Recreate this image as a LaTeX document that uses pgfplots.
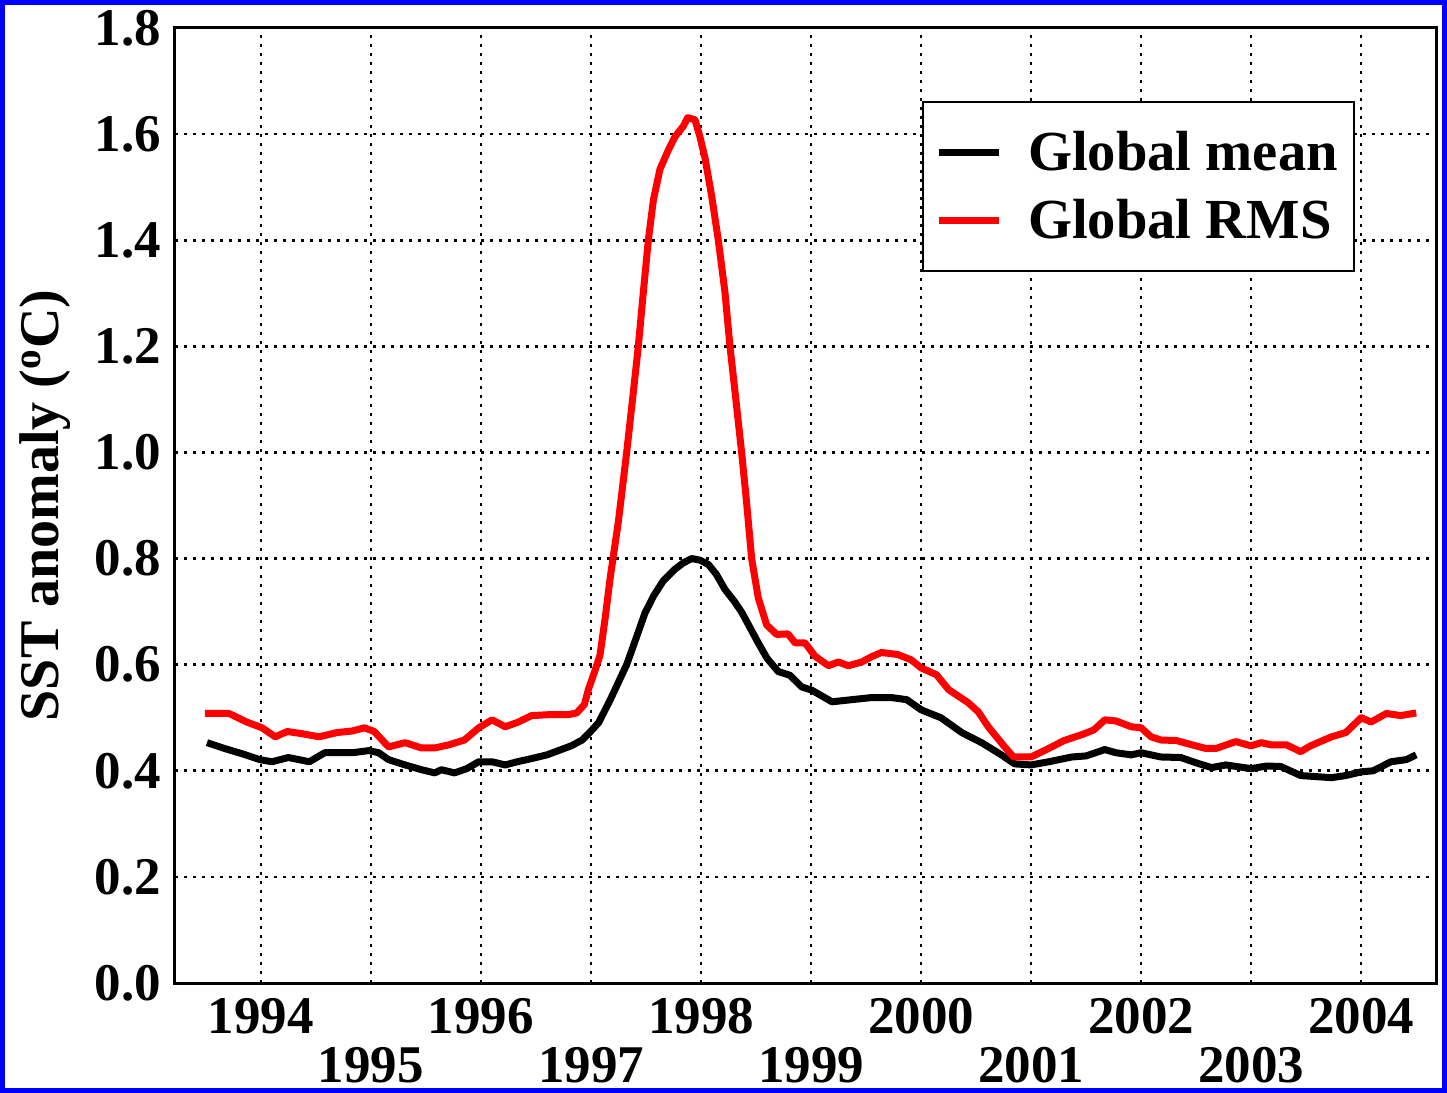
\documentclass[border=0pt]{standalone}
\usepackage{pgfplots}
\pgfplotsset{compat=1.18}
\usepackage{fontspec}
\setmainfont{Liberation Serif}

\pgfplotstableread{
x y
1993.51 0.453
1993.67 0.442
1993.83 0.432
1993.99 0.421
1994.10 0.417
1994.25 0.425
1994.44 0.417
1994.58 0.434
1994.83 0.434
1994.98 0.438
1995.07 0.434
1995.16 0.421
1995.31 0.411
1995.46 0.402
1995.58 0.396
1995.64 0.402
1995.76 0.396
1995.87 0.404
1995.98 0.417
1996.10 0.417
1996.22 0.411
1996.33 0.417
1996.46 0.423
1996.60 0.430
1996.73 0.440
1996.82 0.447
1996.92 0.458
1997.01 0.477
1997.07 0.491
1997.173 0.533
1997.324 0.600
1997.41 0.650
1997.490 0.697
1997.57 0.730
1997.657 0.758
1997.763 0.780
1997.84 0.792
1997.915 0.800
1997.99 0.797
1998.066 0.789
1998.14 0.770
1998.217 0.742
1998.30 0.720
1998.369 0.699
1998.45 0.668
1998.520 0.641
1998.60 0.612
1998.702 0.587
1998.808 0.580
1998.915 0.558
1999.006 0.552
1999.19 0.530
1999.37 0.534
1999.55 0.538
1999.73 0.538
1999.87 0.534
2000.00 0.515
2000.18 0.500
2000.37 0.472
2000.55 0.453
2000.73 0.430
2000.85 0.413
2001.00 0.411
2001.16 0.417
2001.37 0.426
2001.50 0.428
2001.67 0.440
2001.77 0.434
2001.91 0.430
2002.00 0.434
2002.18 0.426
2002.36 0.425
2002.50 0.415
2002.64 0.406
2002.77 0.411
2003.00 0.404
2003.14 0.409
2003.27 0.408
2003.45 0.391
2003.73 0.387
2003.86 0.391
2004.00 0.398
2004.11 0.400
2004.27 0.417
2004.41 0.421
2004.50 0.430
}\meantable

\pgfplotstableread{
x y
1993.49 0.508
1993.71 0.508
1993.87 0.492
1994.01 0.481
1994.13 0.464
1994.24 0.474
1994.37 0.470
1994.53 0.464
1994.69 0.472
1994.83 0.475
1994.94 0.481
1995.03 0.474
1995.16 0.445
1995.31 0.453
1995.46 0.443
1995.58 0.443
1995.71 0.449
1995.85 0.458
1995.98 0.481
1996.10 0.496
1996.22 0.483
1996.33 0.491
1996.46 0.504
1996.64 0.506
1996.80 0.506
1996.87 0.509
1996.94 0.525
1996.976 0.553
1997.03 0.585
1997.082 0.618
1997.13 0.690
1997.173 0.762
1997.249 0.870
1997.324 1.000
1997.370 1.086
1997.430 1.200
1997.476 1.303
1997.521 1.400
1997.567 1.476
1997.627 1.534
1997.703 1.570
1997.763 1.595
1997.839 1.615
1997.879 1.631
1997.945 1.627
1997.99 1.595
1998.036 1.555
1998.097 1.483
1998.157 1.400
1998.217 1.303
1998.263 1.200
1998.308 1.116
1998.369 1.000
1998.414 0.906
1998.460 0.800
1998.520 0.726
1998.596 0.675
1998.687 0.657
1998.79 0.658
1998.855 0.641
1998.945 0.641
1999.036 0.616
1999.158 0.598
1999.248 0.605
1999.339 0.598
1999.461 0.605
1999.55 0.615
1999.64 0.623
1999.79 0.619
1999.91 0.609
2000.00 0.594
2000.14 0.581
2000.25 0.553
2000.43 0.528
2000.52 0.511
2000.61 0.483
2000.76 0.445
2000.84 0.426
2001.00 0.426
2001.14 0.440
2001.30 0.457
2001.46 0.468
2001.57 0.477
2001.67 0.496
2001.77 0.494
2001.91 0.483
2002.00 0.481
2002.09 0.464
2002.18 0.458
2002.32 0.457
2002.46 0.449
2002.59 0.442
2002.68 0.442
2002.86 0.455
2003.00 0.447
2003.09 0.453
2003.18 0.449
2003.32 0.449
2003.45 0.436
2003.54 0.447
2003.73 0.464
2003.86 0.472
2004.00 0.500
2004.09 0.492
2004.23 0.508
2004.36 0.504
2004.50 0.509
}\rmstable

\begin{document}
\begin{tikzpicture}[font=\fontsize{26.5}{30}\selectfont\bfseries]
\begin{axis}[
  scale only axis, width=630.5pt, height=477.5pt,
  at={(0pt,0pt)}, anchor=south west,
  xmin=1993.219, xmax=2004.68, ymin=0, ymax=1.8,
  xtick={1994,1996,1998,2000,2002,2004},
  extra x ticks={1995,1997,1999,2001,2003},
  xticklabel style={yshift=-4pt},
  extra x tick style={grid=major, xticklabel style={yshift=-24.5pt}},
  ytick={0,0.2,0.4,0.6,0.8,1.0,1.2,1.4,1.6,1.8},
  /pgf/number format/1000 sep={},
  /pgf/number format/assume math mode=true,
  yticklabel style={xshift=-3.5pt, /pgf/number format/fixed, /pgf/number format/fixed zerofill, /pgf/number format/precision=1},
  ticklabel style={font=\fontsize{26.5}{30}\selectfont\bfseries},
  grid=major,
  major grid style={black, line width=1.3pt, dash pattern=on 1.3pt off 3.2pt},
  axis line style={line width=1.5pt},
  tick style={draw=none},
  ylabel={SST anomaly (\textsuperscript{o}C)},
  every axis y label/.style={at={([xshift=-65pt]axis description cs:0,0.5)}, rotate=90, anchor=center, font=\fontsize{28}{30}\selectfont\bfseries},
  legend style={at={(axis description cs:0.5924,0.9236)}, anchor=north west, draw=black, line width=1pt, fill=white, inner xsep=6pt, inner ysep=12.5pt, row sep=9pt, font=\fontsize{28.3}{30}\selectfont\bfseries, /tikz/every odd column/.append style={column sep=11pt}},
  legend image code/.code={\draw[#1] (0pt,0pt) -- (30pt,0pt);},
  legend cell align=left,
]
\addplot[black, line width=3.5pt, line join=round] table[x=x,y=y] {\meantable};
\addlegendentry{Global mean}
\addplot[red, line width=3.5pt, line join=round] table[x=x,y=y] {\rmstable};
\addlegendentry{Global RMS}
\end{axis}
\draw[color={rgb,255:red,0;green,0;blue,255}, line width=2.5pt] (-86.25pt,-53.75pt) rectangle (634.75pt,490.25pt);
\pgfresetboundingbox
\useasboundingbox (-87.5pt,-55pt) rectangle (636pt,491.5pt);
\end{tikzpicture}
\end{document}
